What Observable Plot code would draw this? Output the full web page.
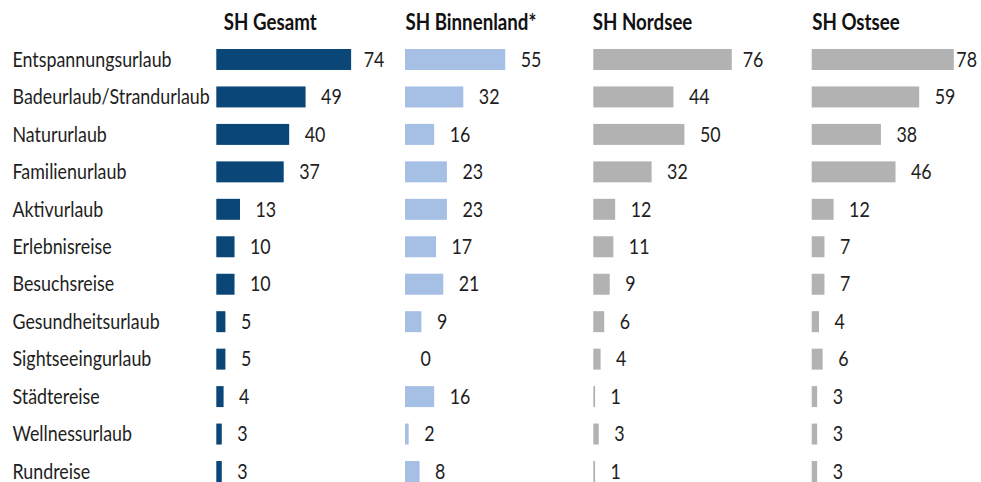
<!DOCTYPE html>
<html>
<head>
<meta charset="utf-8">
<script src="https://cdn.jsdelivr.net/npm/d3@7"></script>
<script src="https://cdn.jsdelivr.net/npm/@observablehq/plot@0.6"></script>
<style>
  html, body { margin: 0; padding: 0; background: #fff; }
  #chart { position: relative; width: 981px; height: 482px; overflow: hidden; }
  #chart svg { position: absolute; left: 0; top: 0; }
</style>
</head>
<body>
<div id="chart"></div>
<script>
const categories = ["Entspannungsurlaub","Badeurlaub/Strandurlaub","Natururlaub","Familienurlaub","Aktivurlaub","Erlebnisreise","Besuchsreise","Gesundheitsurlaub","Sightseeingurlaub","Städtereise","Wellnessurlaub","Rundreise"];
const panelTitles = ["SH Gesamt","SH Binnenland*","SH Nordsee","SH Ostsee"];
const gesamt     = [74,49,40,37,13,10,10,5,5,4,3,3];
const binnenland = [55,32,16,23,23,17,21,9,0,16,2,8];
const nordsee    = [76,44,50,32,12,11,9,6,4,1,3,1];
const ostsee     = [78,59,38,46,12,7,7,4,6,3,3,3];

const series = [gesamt, binnenland, nordsee, ostsee];
const colors = ["#0a4677","#a6bfe5","#b2b2b2","#b2b2b2"];
const panelStart = [216.3, 405, 593.3, 811.7];
const titleDx = [7, 0, -1, 0];
const tightGap = [12, 12, 10.5, 2];   // label gap for the longest bars that reach the panel edge
const labelGap = 15;
const pxPerUnit = 1.822;
const domainMax = 90;
const FONT = "Lato, 'Open Sans', sans-serif";
const FS = 21;
const TITLE_FS = 22;
const SQUEEZE = 0.85;   // horizontal condensing of the text, like the narrow original face
const W = 981, H = 482;

const chart = document.getElementById("chart");

function condense(svg, s) {
  svg.querySelectorAll("text").forEach(t => {
    const x = +(t.getAttribute("x") || 0);
    t.setAttribute("x", x / s);
    const tr = t.getAttribute("transform") || "";
    t.setAttribute("transform", (tr + ` scale(${s},1)`).trim());
  });
}

series.forEach((vals, i) => {
  const data = categories.map((c, j) => ({cat: c, value: vals[j]}));
  const marks = [
    Plot.barX(data, {x: "value", y: "cat", fill: colors[i]}),
    Plot.text(data.filter(d => d.value < 70), {x: "value", y: "cat", text: d => String(d.value), textAnchor: "start", dx: labelGap, fontSize: FS, fill: "#1e1e1e"}),
    Plot.text(data.filter(d => d.value >= 70), {x: "value", y: "cat", text: d => String(d.value), textAnchor: "start", dx: tightGap[i], fontSize: FS, fill: "#1e1e1e"}),
    Plot.text([panelTitles[i]], {x: () => 0, frameAnchor: "top", textAnchor: "start", lineAnchor: "middle", dx: titleDx[i], dy: -27, fontSize: TITLE_FS, fontWeight: "bold", fill: "#111"})
  ];
  if (i === 0) {
    marks.push(Plot.text(categories, {y: d => d, frameAnchor: "left", textAnchor: "start", fontSize: FS, fill: "#1e1e1e"}));
  }
  const svg = Plot.plot({
    width: W, height: H,
    marginLeft: 12, marginRight: 0, marginTop: 49, marginBottom: 0,
    style: {fontFamily: FONT, background: "transparent", overflow: "visible"},
    x: {domain: [0, domainMax], range: [panelStart[i], panelStart[i] + domainMax * pxPerUnit], axis: null},
    y: {domain: categories, range: [49, 482], paddingInner: 0.44, paddingOuter: 0, round: false, axis: null},
    marks
  });
  condense(svg, SQUEEZE);
  chart.appendChild(svg);
});
</script>
</body>
</html>
